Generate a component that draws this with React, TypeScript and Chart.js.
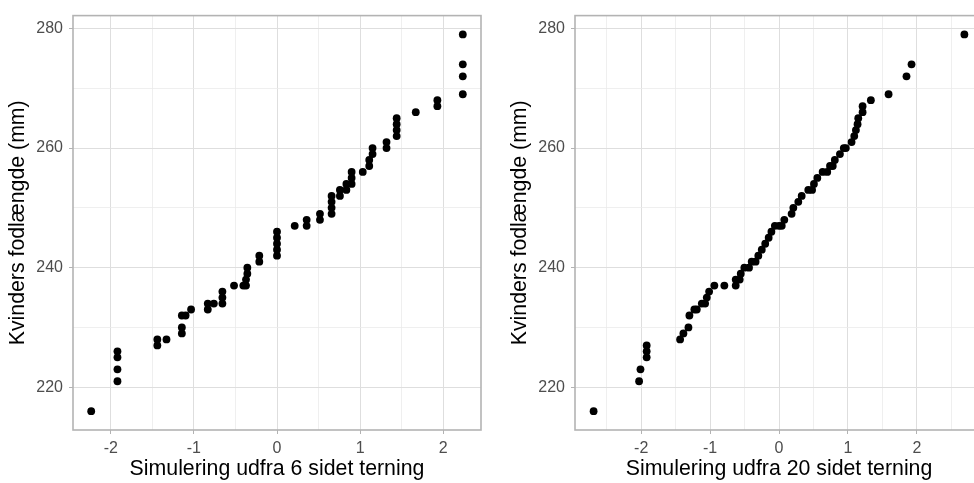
import React, { useEffect, useRef } from 'react';
import { Chart, registerables } from 'chart.js';

Chart.register(...registerables);

const FONT = '"Liberation Sans", Arial, Helvetica, sans-serif';

const yTitle = 'Kvinders fodlængde (mm)';
const leftTitle = 'Simulering udfra 6 sidet terning';
const rightTitle = 'Simulering udfra 20 sidet terning';

const yMajor = [220, 240, 260, 280];
const yMinor = [230, 250, 270];
const xMajor = [-2, -1, 0, 1, 2];
const xMinorLeft = [-1.5, -0.5, 0.5, 1.5];
const xMinorRight = [-2.5, -1.5, -0.5, 0.5, 1.5, 2.5];

const yLimits = [212.85, 282.15];
const leftXLimits = [-2.455, 2.455];
const rightXLimits = [-2.96, 2.96];

// Left panel: simulation from a 6-sided die
const leftX = [
  -2.236,
  -1.92, -1.92, -1.92, -1.92,
  -1.44, -1.44,
  -1.33,
  -1.145, -1.145, -1.145,
  -1.1,
  -1.034,
  -0.833, -0.833,
  -0.76,
  -0.657, -0.657, -0.657,
  -0.517,
  -0.405,
  -0.373, -0.373,
  -0.357, -0.357,
  -0.213, -0.213,
  0, 0, 0, 0, 0,
  0.213,
  0.357, 0.357,
  0.517, 0.517,
  0.657, 0.657, 0.657, 0.657,
  0.757, 0.757,
  0.835, 0.835,
  0.898, 0.898, 0.898,
  1.032,
  1.11, 1.11,
  1.15, 1.15,
  1.318, 1.318,
  1.44, 1.44, 1.44, 1.44,
  1.67,
  1.93, 1.93,
  2.236, 2.236, 2.236, 2.236,
];
const leftY = [
  216,
  221, 223, 225, 226,
  227, 228,
  228,
  229, 230, 232,
  232,
  233,
  233, 234,
  234,
  234, 235, 236,
  237,
  237,
  237, 238,
  239, 240,
  241, 242,
  242, 243, 244, 245, 246,
  247,
  247, 248,
  248, 249,
  249, 250, 251, 252,
  252, 253,
  253, 254,
  254, 255, 256,
  256,
  257, 258,
  259, 260,
  260, 261,
  262, 263, 264, 265,
  266,
  267, 268,
  269, 272, 274, 279,
];

// Right panel: simulation from a 20-sided die
const rightX = [
  -2.69, -2.03, -2.01, -1.92, -1.92, -1.92, -1.435, -1.387, -1.314, -1.3,
  -1.228, -1.193, -1.12, -1.072, -1.048, -1.014, -0.938, -0.793, -0.628, -0.628,
  -0.57, -0.555, -0.503, -0.435, -0.396, -0.34, -0.3, -0.25, -0.2, -0.15,
  -0.11, -0.06, 0.0, 0.04, 0.077, 0.183, 0.208, 0.28, 0.329, 0.425,
  0.48, 0.507, 0.556, 0.633, 0.7, 0.74, 0.78, 0.81, 0.884, 0.94,
  0.97, 1.053, 1.092, 1.116, 1.14, 1.15, 1.213, 1.213, 1.333, 1.59,
  1.85, 1.923, 2.69,
];
const rightY = [
  216, 221, 223, 225, 226, 227, 228, 229, 230, 232,
  233, 233, 234, 234, 235, 236, 237, 237, 237, 238,
  238, 239, 240, 240, 241, 241, 242, 243, 244, 245,
  246, 247, 247, 247, 248, 249, 250, 251, 252, 253,
  253, 254, 255, 256, 256, 257, 257, 258, 259, 260,
  260, 261, 262, 263, 264, 265, 266, 267, 268, 269,
  272, 274, 279,
];

const CANVAS_W = 490;
const CANVAS_H = 483;

type PanelProps = {
  xs: number[];
  ys: number[];
  xMinor: number[];
  xLim: number[];
  title: string;
  left: number;
};

function Panel({ xs, ys, xMinor, xLim, title, left }: PanelProps) {
  const ref = useRef<HTMLCanvasElement>(null);

  useEffect(() => {
    const canvas = ref.current;
    if (!canvas) return;

    const borderPlugin = {
      id: 'panelBorder',
      afterDraw(chart: any) {
        const { ctx, chartArea: a } = chart;
        ctx.save();
        ctx.strokeStyle = '#B3B3B3';
        ctx.lineWidth = 1.6;
        ctx.strokeRect(a.left, a.top, a.right - a.left, a.bottom - a.top);
        ctx.restore();
      },
    };

    const mkTicks = (major: number[], minor: number[]) => (scale: any) => {
      scale.ticks = [...major, ...minor]
        .sort((a, b) => a - b)
        .map((v) => ({ value: v }));
    };

    const gridFor = (major: number[]) => ({
      color: (c: any) => (major.includes(c.tick?.value) ? '#DEDEDE' : '#EBEBEB'),
      lineWidth: (c: any) => (major.includes(c.tick?.value) ? 1 : 0.8),
      drawTicks: true,
      tickLength: 4,
      tickWidth: 1,
      tickColor: (c: any) => (major.includes(c.tick?.value) ? '#B3B3B3' : 'rgba(0,0,0,0)'),
    });

    const chart = new Chart(canvas, {
      type: 'scatter',
      data: {
        datasets: [
          {
            data: xs.map((x, i) => ({ x, y: ys[i] })),
            backgroundColor: '#000000',
            borderColor: '#000000',
            borderWidth: 0,
            pointRadius: 3.9,
            pointHoverRadius: 3.9,
          },
        ],
      },
      options: {
        animation: false,
        responsive: false,
        events: [],
        layout: { padding: { left: 0, right: 9, top: 9, bottom: 0 } },
        plugins: {
          legend: { display: false },
          tooltip: { enabled: false },
        },
        scales: {
          x: {
            type: 'linear',
            min: xLim[0],
            max: xLim[1],
            afterBuildTicks: mkTicks(xMajor, xMinor),
            afterFit: (s: any) => {
              s.height = 53;
            },
            grid: gridFor(xMajor),
            border: { display: false },
            ticks: {
              autoSkip: false,
              maxRotation: 0,
              padding: 5,
              color: '#4D4D4D',
              font: { family: FONT, size: 16 },
              callback: (v: any) => (xMajor.includes(Number(v)) ? String(v) : ''),
            },
            title: {
              display: true,
              text: title,
              color: '#000000',
              font: { family: FONT, size: 21.3 },
              padding: { top: 0, bottom: 1 },
            },
          },
          y: {
            type: 'linear',
            min: yLimits[0],
            max: yLimits[1],
            afterBuildTicks: mkTicks(yMajor, yMinor),
            afterFit: (s: any) => {
              s.width = 73;
            },
            grid: gridFor(yMajor),
            border: { display: false },
            ticks: {
              autoSkip: false,
              padding: 6,
              color: '#4D4D4D',
              font: { family: FONT, size: 16 },
              callback: (v: any) => (yMajor.includes(Number(v)) ? String(v) : ''),
            },
            title: {
              display: true,
              text: yTitle,
              color: '#000000',
              font: { family: FONT, size: 21.3 },
              padding: { top: 5, bottom: 0 },
            },
          },
        },
      },
      plugins: [borderPlugin],
    } as any);

    return () => chart.destroy();
  }, []);

  return (
    <canvas
      ref={ref}
      width={CANVAS_W}
      height={CANVAS_H}
      style={{ position: 'absolute', left, top: 0, width: CANVAS_W, height: CANVAS_H }}
    />
  );
}

export default function App() {
  return (
    <div
      style={{
        position: 'fixed',
        left: 0,
        top: 0,
        width: 974,
        height: 483,
        overflow: 'hidden',
        background: '#ffffff',
      }}
    >
      <Panel xs={leftX} ys={leftY} xMinor={xMinorLeft} xLim={leftXLimits} title={leftTitle} left={0} />
      <Panel xs={rightX} ys={rightY} xMinor={xMinorRight} xLim={rightXLimits} title={rightTitle} left={502} />
    </div>
  );
}
